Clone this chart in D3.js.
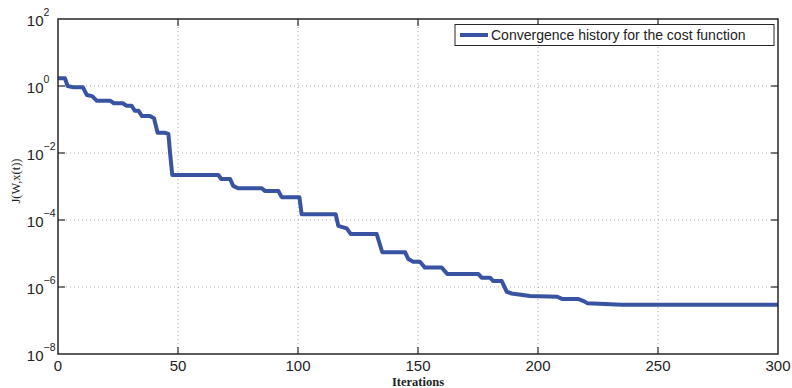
<!DOCTYPE html>
<html>
<head>
<meta charset="utf-8">
<script src="https://cdn.jsdelivr.net/npm/d3@7"></script>
<style>
  body { margin: 0; background: #fff; }
  svg { display: block; }
</style>
</head>
<body>
<div id="chart"></div>
<script>
// iteration numbers where the curve changes
const iterations = [0, 2.9, 4, 6.5, 10.4, 12, 14.2, 16.1, 21.7, 23.3, 27, 28.6, 30.7, 32, 33.5, 35, 38.3, 40, 41.5, 44.6, 46, 46.7, 47.6,
  66.8, 68, 71.7, 73, 75, 84.9, 86.2, 91.8, 93.2, 100.6, 101.5, 115.7, 116.8, 120.3, 122, 132.8, 135.1, 144.6, 146, 148, 150.8,
  152.9, 159.9, 162.2, 175.1, 176.5, 180, 181.4, 184.9, 187, 189, 196.7, 208, 210, 216.7, 219, 220.5, 235, 300];
// cost function J(W,x(t)) at those iterations
const costs = [1.70, 1.70, 1.0, 0.91, 0.91, 0.54, 0.50, 0.364, 0.364, 0.305, 0.305, 0.258, 0.258, 0.183, 0.183, 0.127, 0.127, 0.109, 0.040, 0.040, 0.037, 0.01, 0.0022,
  0.0022, 1.67e-3, 1.67e-3, 1.04e-3, 8.9e-4, 8.9e-4, 7.4e-4, 7.4e-4, 4.8e-4, 4.8e-4, 1.48e-4, 1.48e-4, 6.7e-5, 5.6e-5, 3.8e-5, 3.8e-5, 1.09e-5, 1.09e-5, 6.8e-6, 5.7e-6, 5.7e-6,
  3.8e-6, 3.8e-6, 2.45e-6, 2.45e-6, 1.9e-6, 1.9e-6, 1.5e-6, 1.5e-6, 7.2e-7, 6.4e-7, 5.4e-7, 5.1e-7, 4.4e-7, 4.4e-7, 3.8e-7, 3.3e-7, 2.95e-7, 2.95e-7];

const xTicks = [0, 50, 100, 150, 200, 250, 300];
const yExponents = [2, 0, -2, -4, -6, -8];
const seriesLabel = "Convergence history for the cost function";
const xLabel = "Iterations";
const yLabel = "J(W,x(t))";

const width = 792;
const height = 388;
const margin = { top: 19, right: 14, bottom: 34, left: 58 };
const lineColor = "#3953a3";
const axisColor = "#262626";

const svg = d3.select("#chart")
  .append("svg")
  .attr("width", width)
  .attr("height", height);

const x = d3.scaleLinear()
  .domain([0, 300])
  .range([margin.left, width - margin.right]);

const y = d3.scaleLog()
  .domain([1e-8, 1e2])
  .range([height - margin.bottom, margin.top]);

const x0 = margin.left, x1 = width - margin.right;
const y0 = height - margin.bottom, y1 = margin.top;

// dotted grid (inner ticks only)
const grid = svg.append("g");
grid.selectAll(".vgrid")
  .data(xTicks.slice(1, -1))
  .enter()
  .append("line")
  .attr("x1", d => x(d)).attr("x2", d => x(d))
  .attr("y1", y1).attr("y2", y0)
  .style("stroke", "#999")
  .style("stroke-width", 0.8)
  .style("stroke-dasharray", "1,3");
grid.selectAll(".hgrid")
  .data(yExponents.slice(1, -1))
  .enter()
  .append("line")
  .attr("x1", x0).attr("x2", x1)
  .attr("y1", d => y(Math.pow(10, d))).attr("y2", d => y(Math.pow(10, d)))
  .style("stroke", "#999")
  .style("stroke-width", 0.8)
  .style("stroke-dasharray", "1,3");

// data line
const data = iterations.map((it, i) => ({ it, c: costs[i] }));
const line = d3.line()
  .x(d => x(d.it))
  .y(d => y(d.c));

svg.append("path")
  .datum(data)
  .attr("d", line)
  .style("fill", "none")
  .style("stroke", lineColor)
  .style("stroke-width", 4)
  .style("stroke-linejoin", "round");

// axes box
svg.append("rect")
  .attr("x", x0).attr("y", y1)
  .attr("width", x1 - x0).attr("height", y0 - y1)
  .style("fill", "none")
  .style("stroke", axisColor)
  .style("stroke-width", 1.5);

// inward ticks, MATLAB style
const tickLen = 7;
const ticks = svg.append("g").style("stroke", axisColor).style("stroke-width", 1.2);
xTicks.slice(1, -1).forEach(t => {
  ticks.append("line").attr("x1", x(t)).attr("x2", x(t)).attr("y1", y0).attr("y2", y0 - tickLen);
  ticks.append("line").attr("x1", x(t)).attr("x2", x(t)).attr("y1", y1).attr("y2", y1 + tickLen);
});
yExponents.slice(1, -1).forEach(e => {
  const yy = y(Math.pow(10, e));
  ticks.append("line").attr("x1", x0).attr("x2", x0 + tickLen).attr("y1", yy).attr("y2", yy);
  ticks.append("line").attr("x1", x1).attr("x2", x1 - tickLen).attr("y1", yy).attr("y2", yy);
});

// tick labels
const tickFont = "'Liberation Sans', Arial, Helvetica, sans-serif";
svg.selectAll(".xlabel")
  .data(xTicks)
  .enter()
  .append("text")
  .attr("x", d => x(d))
  .attr("y", y0 + 17)
  .attr("text-anchor", "middle")
  .style("font-family", tickFont)
  .style("font-size", "15px")
  .style("fill", "#222")
  .text(d => d);

const yl = svg.selectAll(".ylabel")
  .data(yExponents)
  .enter()
  .append("g")
  .attr("transform", d => `translate(0,${y(Math.pow(10, d))})`);
yl.append("text")
  .attr("x", 43.5)
  .attr("y", 6.5)
  .attr("text-anchor", "end")
  .style("font-family", tickFont)
  .style("font-size", "15px")
  .style("fill", "#222")
  .text("10");
yl.append("text")
  .attr("x", 43.5)
  .attr("y", -3.5)
  .style("font-family", tickFont)
  .style("font-size", "10.5px")
  .style("fill", "#222")
  .text(d => (d < 0 ? "\u2212" + Math.abs(d) : d));

// axis titles
svg.append("text")
  .attr("x", (x0 + x1) / 2)
  .attr("y", 386)
  .attr("text-anchor", "middle")
  .style("font-family", "'Liberation Serif', 'Times New Roman', serif")
  .style("font-weight", "bold")
  .style("font-size", "12.5px")
  .style("fill", "#222")
  .text(xLabel);

svg.append("text")
  .attr("transform", "translate(19.5,181) rotate(-90)")
  .attr("text-anchor", "middle")
  .style("font-family", "'Liberation Serif', 'Times New Roman', serif")
  .style("font-size", "12.5px")
  .style("fill", "#222")
  .text(yLabel);

// legend
const legend = svg.append("g");
legend.append("rect")
  .attr("x", 455).attr("y", 24.5)
  .attr("width", 319).attr("height", 21)
  .style("fill", "#fff")
  .style("stroke", axisColor)
  .style("stroke-width", 1);
legend.append("line")
  .attr("x1", 460).attr("x2", 488)
  .attr("y1", 35).attr("y2", 35)
  .style("stroke", lineColor)
  .style("stroke-width", 4);
legend.append("text")
  .attr("x", 491)
  .attr("y", 40)
  .style("font-family", tickFont)
  .style("font-size", "14px")
  .style("fill", "#222")
  .text(seriesLabel);
</script>
</body>
</html>
